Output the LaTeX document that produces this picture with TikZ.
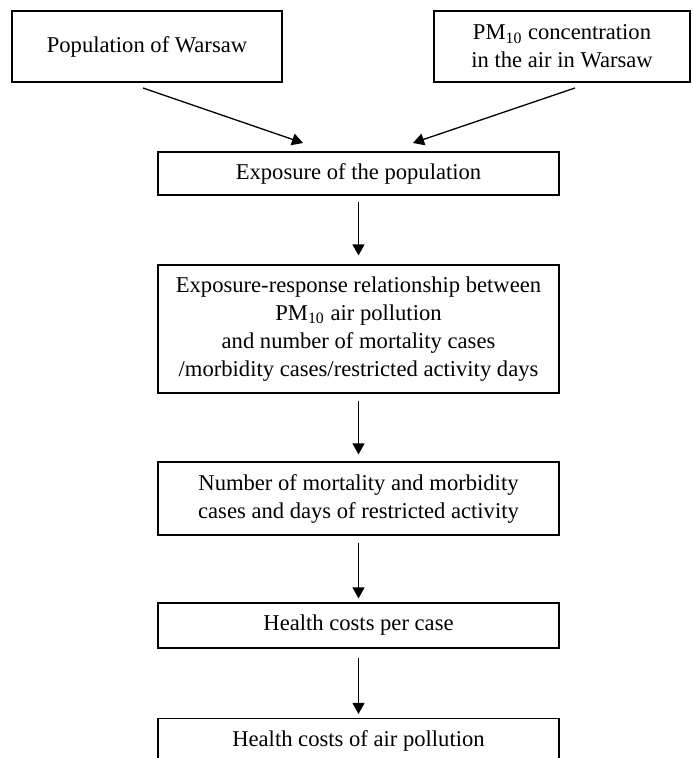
\documentclass[tikz,border=0pt]{standalone}
\usepackage{fontspec}
\setmainfont{Liberation Serif}
\usetikzlibrary{arrows.meta}
\newcommand{\pmten}{PM\textsubscript{10}}
\tikzset{
  box/.style={draw, line width=0.6pt, align=center, inner sep=0pt,
    font=\fontsize{11.3pt}{14pt}\selectfont},
  flow/.style={line width=0.65pt, -{Triangle[length=5.5pt,width=6pt]}}
}

\begin{document}
\begin{tikzpicture}[x=0.5pt,y=-0.5pt]
\useasboundingbox (0,0) rectangle (692,758);
% input boxes
\node[box, minimum width=135pt, minimum height=35.5pt] (pop) at (147,46.5) {Population of Warsaw};
\node[box, minimum width=128pt, minimum height=35.5pt] (conc) at (562,46.5) {\pmten{} concentration\\in the air in Warsaw};
% chain
\node[box, minimum width=200.5pt, minimum height=21.5pt] (expo) at (358.5,173.5) {Exposure of the population};
\node[box, minimum width=200.5pt, minimum height=64pt] (erel) at (358.5,329) {Exposure-response relationship between\\\pmten{} air pollution\\and number of mortality cases\\/morbidity cases/restricted activity days};
\node[box, minimum width=200.5pt, minimum height=36.5pt] (cases) at (358.5,498.5) {Number of mortality and morbidity\\cases and days of restricted activity};
\node[box, minimum width=200.5pt, minimum height=22.5pt] (costcase) at (358.5,625.5) {Health costs per case};
\node[box, minimum width=200.5pt, minimum height=22.5pt] (costair) at (358.5,741) {Health costs of air pollution};
% arrows
\coordinate (popout) at (143,88);
\coordinate (popin) at (303,143);
\coordinate (concout) at (575,88);
\coordinate (concin) at (413,143);
\draw[flow] (popout) -- (popin);
\draw[flow] (concout) -- (concin);
\draw[flow, shorten <=3pt, shorten >=4.5pt] (expo) -- (erel);
\draw[flow, shorten <=3.5pt, shorten >=3.5pt] (erel) -- (cases);
\draw[flow, shorten <=3.5pt, shorten >=2pt] (cases) -- (costcase);
\draw[flow, shorten <=4.5pt, shorten >=2pt] (costcase) -- (costair);
\end{tikzpicture}
\end{document}
